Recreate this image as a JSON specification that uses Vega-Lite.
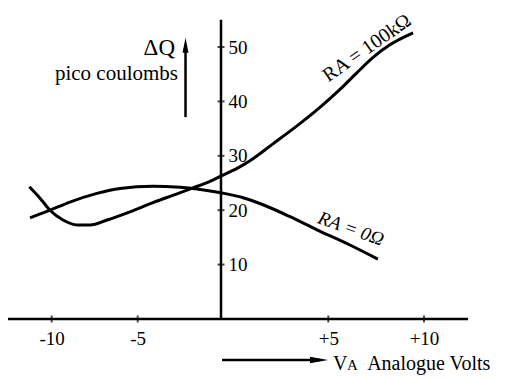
{
  "$schema": "https://vega.github.io/schema/vega-lite/v6.json",
  "width": 508,
  "height": 379,
  "autosize": {"type": "none"},
  "padding": 0,
  "background": "white",
  "config": {"view": {"stroke": null}, "font": "Liberation Serif", "text": {"font": "Liberation Serif", "color": "black"},
    "axis": {"domain": false, "ticks": false, "tickSize": 0, "grid": false, "labelFontSize": 19, "labelColor": "black", "labelFont": "Liberation Serif", "labelFlush": false, "labelOverlap": false, "labelBound": false}},
  "datasets": {
    "curves": [
      {"curve": "100k", "v": -11.30, "q": 24.3},
      {"curve": "100k", "v": -10.68, "q": 22.2},
      {"curve": "100k", "v": -10.10, "q": 20.0},
      {"curve": "100k", "v": -9.34, "q": 18.2},
      {"curve": "100k", "v": -8.53, "q": 17.3},
      {"curve": "100k", "v": -7.77, "q": 17.3},
      {"curve": "100k", "v": -6.78, "q": 18.2},
      {"curve": "100k", "v": -5.45, "q": 19.7},
      {"curve": "100k", "v": -4.08, "q": 21.4},
      {"curve": "100k", "v": -2.64, "q": 23.0},
      {"curve": "100k", "v": -1.68, "q": 24.1},
      {"curve": "100k", "v": -0.66, "q": 25.3},
      {"curve": "100k", "v": 0.0, "q": 26.3},
      {"curve": "100k", "v": 0.75, "q": 27.7},
      {"curve": "100k", "v": 1.35, "q": 29.1},
      {"curve": "100k", "v": 2.42, "q": 32.2},
      {"curve": "100k", "v": 3.54, "q": 35.5},
      {"curve": "100k", "v": 4.61, "q": 38.9},
      {"curve": "100k", "v": 5.61, "q": 42.2},
      {"curve": "100k", "v": 6.50, "q": 45.3},
      {"curve": "100k", "v": 7.34, "q": 48.1},
      {"curve": "100k", "v": 8.22, "q": 50.4},
      {"curve": "100k", "v": 9.43, "q": 52.6},
      {"curve": "0", "v": -11.26, "q": 18.6},
      {"curve": "0", "v": -10.10, "q": 20.0},
      {"curve": "0", "v": -8.94, "q": 21.5},
      {"curve": "0", "v": -7.37, "q": 23.1},
      {"curve": "0", "v": -6.03, "q": 24.0},
      {"curve": "0", "v": -4.08, "q": 24.4},
      {"curve": "0", "v": -2.46, "q": 24.2},
      {"curve": "0", "v": -1.44, "q": 23.9},
      {"curve": "0", "v": 0.0, "q": 23.2},
      {"curve": "0", "v": 1.03, "q": 22.3},
      {"curve": "0", "v": 1.96, "q": 21.0},
      {"curve": "0", "v": 3.22, "q": 18.8},
      {"curve": "0", "v": 4.47, "q": 16.4},
      {"curve": "0", "v": 6.13, "q": 13.6},
      {"curve": "0", "v": 7.59, "q": 11.0}
    ],
    "hrules": [
      {"v": -12.54, "v2": 12.30, "q": 0},
      {"v": 0.05, "v2": 4.6, "q": -7.54}
    ],
    "vrules": [
      {"v": 0, "q": 0, "q2": 55.0},
      {"v": -2.13, "q": 37.1, "q2": 49.5}
    ],
    "yticks": [
      {"v": 0, "q": 10}, {"v": 0, "q": 20}, {"v": 0, "q": 30}, {"v": 0, "q": 40}, {"v": 0, "q": 50}
    ],
    "xticks": [
      {"v": -10, "q": 0}, {"v": -5, "q": 0}, {"v": 5, "q": 0}, {"v": 10, "q": 0}
    ]
  },
  "encoding": {
    "x": {
      "field": "v", "type": "quantitative",
      "scale": {"domain": [-10, -5, 0, 5, 10], "range": [51.7, 137.7, 221, 328.3, 424], "nice": false, "zero": false},
      "axis": {"orient": "bottom", "offset": -60, "values": [-10, -5, 5, 10],
        "labelExpr": "(datum.value > 0 ? '+' : '-') + abs(datum.value)",
        "title": null, "labelPadding": 10, "labelFont": "Liberation Serif"}
    },
    "y": {
      "field": "q", "type": "quantitative",
      "scale": {"domain": [-11.03, 58.64], "nice": false, "zero": false},
      "axis": {"orient": "right", "offset": -287, "values": [10, 20, 30, 40, 50],
        "title": null, "labelPadding": 7, "labelBaseline": "middle", "labelFont": "Liberation Serif"}
    }
  },
  "layer": [
    {
      "data": {"name": "curves"},
      "mark": {"type": "line", "color": "black", "strokeWidth": 3, "interpolate": "monotone"},
      "encoding": {"detail": {"field": "curve"}}
    },
    {
      "data": {"name": "hrules"},
      "mark": {"type": "rule", "color": "black", "strokeWidth": 2.5},
      "encoding": {"x2": {"field": "v2"}}
    },
    {
      "data": {"name": "vrules"},
      "mark": {"type": "rule", "color": "black", "strokeWidth": 2.5},
      "encoding": {"y2": {"field": "q2"}}
    },
    {
      "data": {"name": "yticks"},
      "mark": {"type": "tick", "orient": "horizontal", "color": "black", "size": 7, "thickness": 2},
      "encoding": {}
    },
    {
      "data": {"name": "xticks"},
      "mark": {"type": "tick", "orient": "vertical", "color": "black", "size": 7, "thickness": 2},
      "encoding": {}
    },
    {
      "data": {"values": [{"v": -2.13, "q": 50.3}]},
      "mark": {"type": "point", "shape": "M0,-1L0.4,1L-0.4,1Z", "size": 225, "filled": true, "color": "black", "opacity": 1},
      "encoding": {}
    },
    {
      "data": {"values": [{"v": 4.57, "q": -7.54}]},
      "mark": {"type": "point", "shape": "M1,0L-1,-0.35L-1,0.35Z", "size": 324, "filled": true, "color": "black", "opacity": 1},
      "encoding": {}
    },
    {
      "data": {"values": [{"v": -2.76, "q": 48.5, "t": "ΔQ"}]},
      "mark": {"type": "text", "align": "right", "baseline": "alphabetic", "fontSize": 23, "font": "Liberation Serif"},
      "encoding": {"text": {"field": "t"}}
    },
    {
      "data": {"values": [{"v": -2.58, "q": 44.0, "t": "pico coulombs"}]},
      "mark": {"type": "text", "align": "right", "baseline": "alphabetic", "fontSize": 21, "font": "Liberation Serif"},
      "encoding": {"text": {"field": "t"}}
    },
    {
      "data": {"values": [{"v": 5.25, "q": -9.375, "t": "V"}, {"v": 7.03, "q": -9.375, "t": "Analogue Volts"}]},
      "mark": {"type": "text", "align": "left", "baseline": "alphabetic", "fontSize": 20, "font": "Liberation Serif"},
      "encoding": {"text": {"field": "t"}}
    },
    {
      "data": {"values": [{"v": 5.98, "q": -9.375, "t": "A"}]},
      "mark": {"type": "text", "align": "left", "baseline": "alphabetic", "fontSize": 15, "font": "Liberation Serif"},
      "encoding": {"text": {"field": "t"}}
    },
    {
      "data": {"values": [{"v": 7.02, "q": 49.8, "t": "RA = 100kΩ"}]},
      "mark": {"type": "text", "align": "center", "baseline": "middle", "fontSize": 20, "angle": 325, "font": "Liberation Serif"},
      "encoding": {"text": {"field": "t"}}
    },
    {
      "data": {"values": [{"v": 6.19, "q": 16.6, "t": "RA = 0Ω"}]},
      "mark": {"type": "text", "align": "center", "baseline": "middle", "fontSize": 19, "angle": 20, "fontStyle": "italic", "font": "Liberation Serif"},
      "encoding": {"text": {"field": "t"}}
    }
  ]
}
